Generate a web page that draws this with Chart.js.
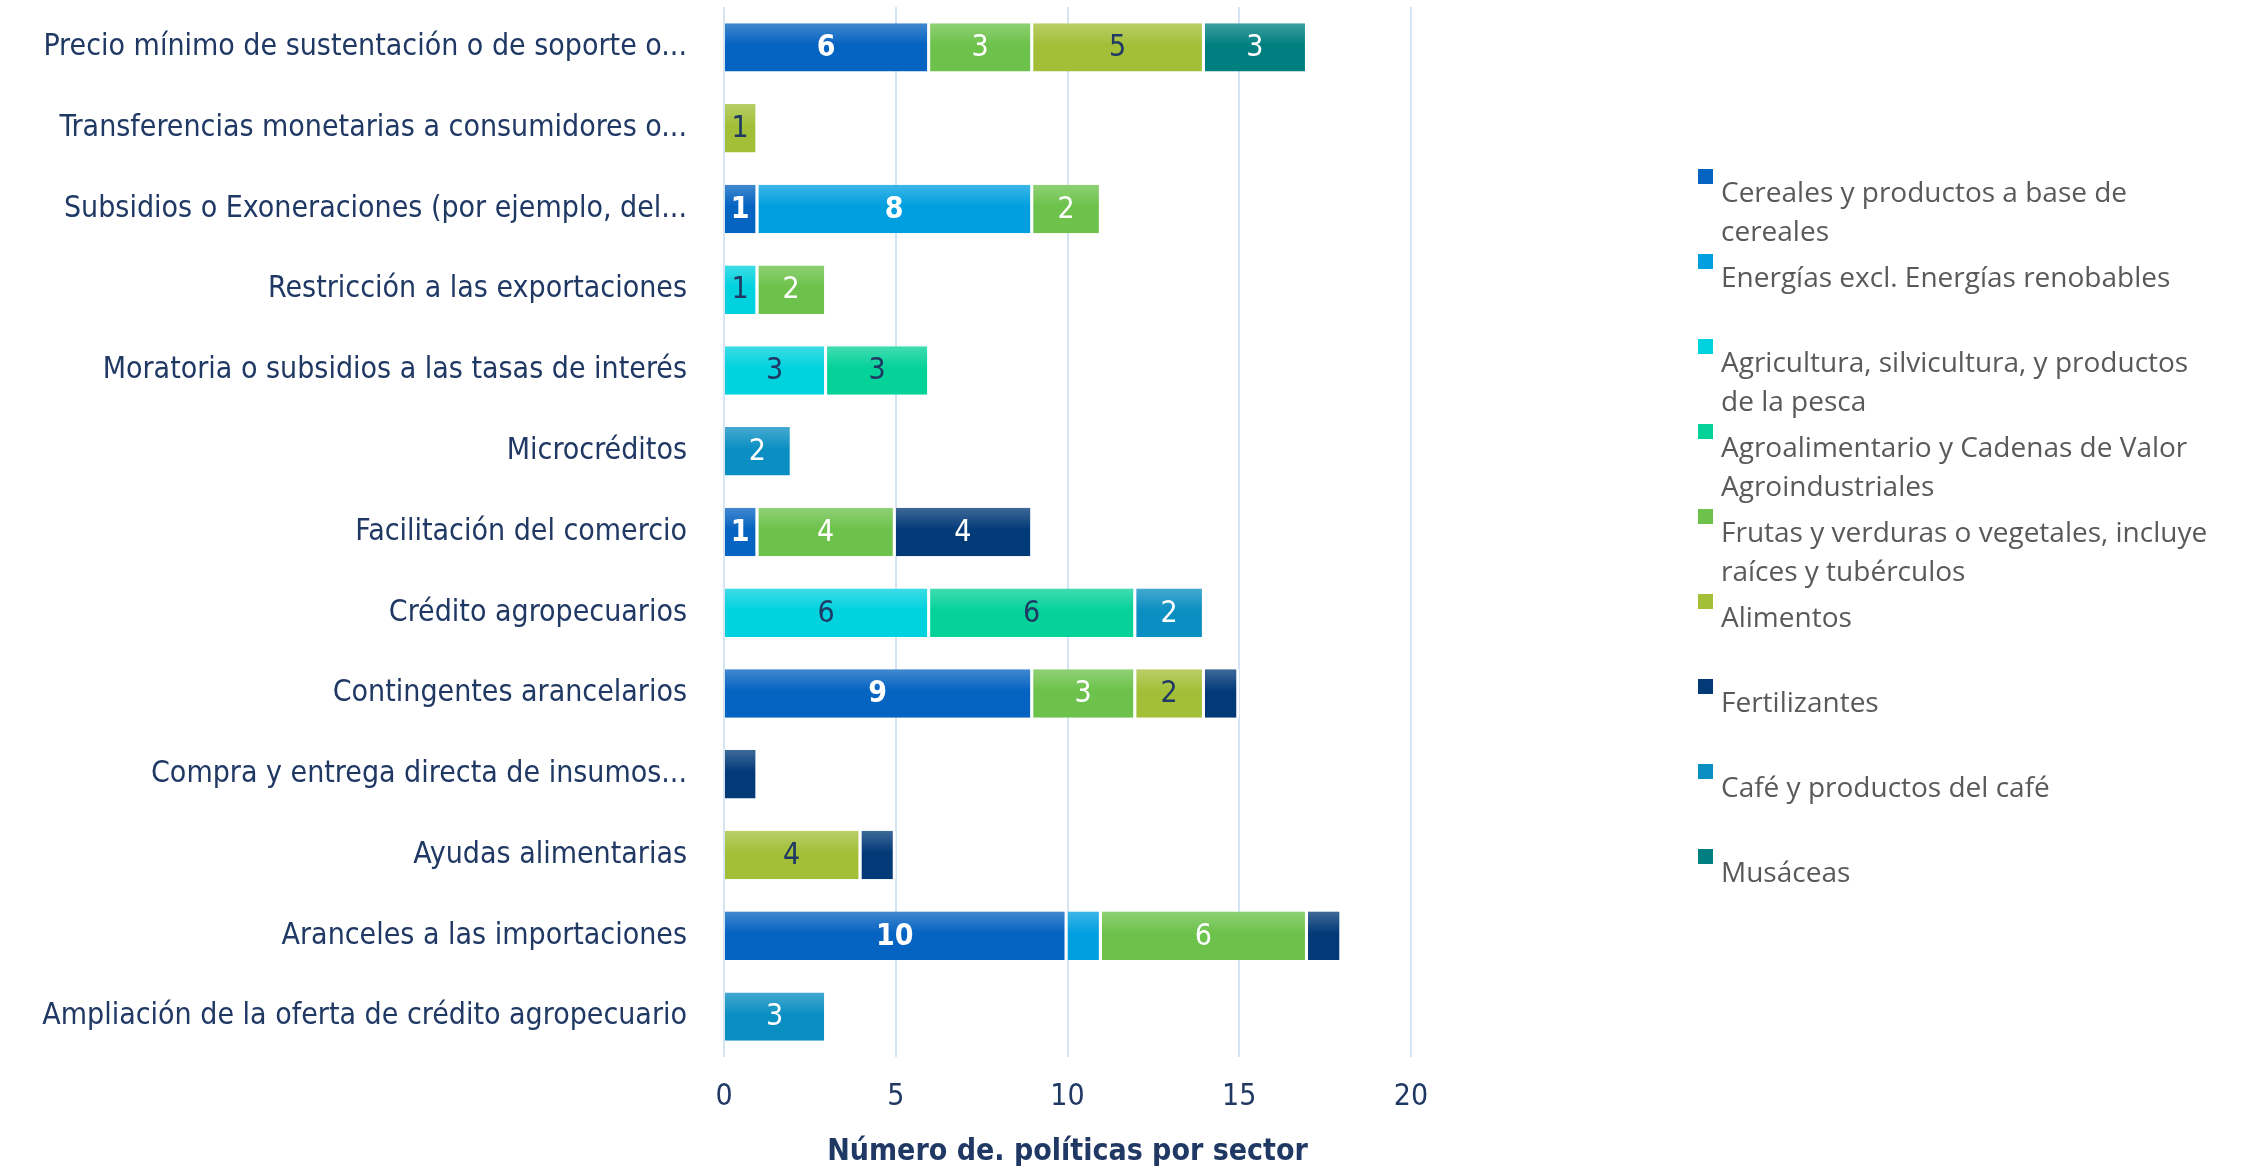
<!DOCTYPE html>
<html lang="es">
<head>
<meta charset="utf-8">
<title>Número de políticas por sector</title>
<script src="https://cdn.jsdelivr.net/npm/chart.js@4.4.1/dist/chart.umd.min.js"></script>
<style>
  html, body { margin: 0; padding: 0; background: #fff; }
  #wrap   { position: relative; width: 2246px; height: 1170px; }
  #chart  { display: block; }
  #legend { position: absolute; left: 1698px; top: 169px;
            font-family: 'Open Sans', Lato, sans-serif; font-size: 28px; color: #595959; }
  .item   { position: absolute; left: 0; }
  .swatch { position: absolute; left: 0; top: 0; width: 15px; height: 15px; }
  .text   { position: absolute; left: 23px; top: 3px; line-height: 39px; white-space: nowrap; }
</style>
</head>
<body>
<div id="wrap">
  <canvas id="chart" width="2246" height="1170"></canvas>
  <div id="legend"></div>
</div>

<script>
/* ─────────────────────────────────────────
   DATOS (de arriba hacia abajo)
───────────────────────────────────────── */
const categories = [
  'Precio mínimo de sustentación o de soporte o...',
  'Transferencias monetarias a consumidores o...',
  'Subsidios o Exoneraciones (por ejemplo, del...',
  'Restricción a las exportaciones',
  'Moratoria o subsidios a las tasas de interés',
  'Microcréditos',
  'Facilitación del comercio',
  'Crédito agropecuarios',
  'Contingentes arancelarios',
  'Compra y entrega directa de insumos...',
  'Ayudas alimentarias',
  'Aranceles a las importaciones',
  'Ampliación de la oferta de crédito agropecuario'
];

/* nombres de sector; "\n" marca el corte de línea en la leyenda */
const sectors = [
  'Cereales y productos a base de\ncereales',
  'Energías excl. Energías renobables',
  'Agricultura, silvicultura, y productos\nde la pesca',
  'Agroalimentario y Cadenas de Valor\nAgroindustriales',
  'Frutas y verduras o vegetales, incluye\nraíces y tubérculos',
  'Alimentos',
  'Fertilizantes',
  'Café y productos del café',
  'Musáceas'
];

const cereales        = [6, null, 1, null, null, null, 1, null, 9, null, null, 10, null];
const energias        = [null, null, 8, null, null, null, null, null, null, null, null, 1, null];
const agricultura     = [null, null, null, 1, 3, null, null, 6, null, null, null, null, null];
const agroalimentario = [null, null, null, null, 3, null, null, 6, null, null, null, null, null];
const frutas          = [3, null, 2, 2, null, null, 4, null, 3, null, null, 6, null];
const alimentos       = [5, 1, null, null, null, null, null, null, 2, null, 4, null, null];
const fertilizantes   = [null, null, null, null, null, null, 4, null, 1, 1, 1, 1, null];
const cafe            = [null, null, null, null, null, 2, null, 2, null, null, null, null, 3];
const musaceas        = [3, null, null, null, null, null, null, null, null, null, null, null, null];

const series = [cereales, energias, agricultura, agroalimentario, frutas,
                alimentos, fertilizantes, cafe, musaceas];

const xTicks = [0, 5, 10, 15, 20];

/* ─────────────────────────────────────────
   ESTILO
───────────────────────────────────────── */
const palette    = ['#0563c1', '#009fe0', '#00d2de', '#05d299', '#6cc24a',
                    '#a3bf38', '#023a78', '#0b8fc2', '#007f80'];
const labelColor = ['#ffffff', '#ffffff', '#1f3864', '#1f3864', '#ffffff',
                    '#1f3864', '#ffffff', '#ffffff', '#ffffff'];
const labelBold  = [true, true, false, false, false, false, false, false, false];
/* en estos sectores el valor 1 no lleva etiqueta */
const quietOnes  = [1, 6];

const NAVY = '#1f3864';
const AXIS_FONT = "'Liberation Sans Narrow', 'DejaVu Sans Condensed', Roboto, sans-serif";

/* Brillo superior + etiqueta centrada en cada segmento */
const barFinish = {
  id: 'barFinish',
  afterDatasetsDraw(chart) {
    const ctx = chart.ctx;
    ctx.save();
    chart.data.datasets.forEach((ds, di) => {
      const meta = chart.getDatasetMeta(di);
      meta.data.forEach((bar, i) => {
        const v = ds.data[i];
        if (!v) return;
        const { x, y, base, height } = bar.getProps(['x', 'y', 'base', 'height'], true);
        const top = y - height / 2;
        const g = ctx.createLinearGradient(0, top, 0, top + height);
        g.addColorStop(0, 'rgba(255,255,255,0.24)');
        g.addColorStop(0.45, 'rgba(255,255,255,0)');
        ctx.fillStyle = g;
        ctx.fillRect(base, top, x - base - 3, height);

        if (v === 1 && quietOnes.includes(di)) return;
        ctx.font = (labelBold[di] ? 'bold ' : '') + '30px ' + AXIS_FONT;
        ctx.fillStyle = labelColor[di];
        ctx.textAlign = 'center';
        ctx.textBaseline = 'middle';
        ctx.fillText(String(v), (base + x - 3) / 2, y + 1);
      });
    });
    ctx.restore();
  }
};

/* ─────────────────────────────────────────
   GRÁFICO
───────────────────────────────────────── */
const datasets = series.map((data, i) => ({
  label:           sectors[i].replace('\n', ' '),
  data,
  backgroundColor: palette[i],
  borderColor:     '#ffffff',
  borderWidth:     { top: 0, bottom: 0, left: 0, right: 3 },
  borderSkipped:   false,
  barPercentage:   0.6,
  categoryPercentage: 1
}));

new Chart(document.getElementById('chart'), {
  type: 'bar',
  data: { labels: categories, datasets },
  plugins: [barFinish],
  options: {
    indexAxis: 'y',
    responsive: false,
    animation: false,
    layout: { padding: { top: 7, right: 835, bottom: 0, left: 0 } },
    plugins: {
      legend:  { display: false },
      tooltip: { enabled: false }
    },
    scales: {
      x: {
        stacked: true,
        min: 0,
        max: 20,
        afterBuildTicks: scale => { scale.ticks = xTicks.map(v => ({ value: v })); },
        afterFit: scale => { scale.height = 113; },
        grid:   { color: '#d5e4f3', lineWidth: 2, drawTicks: false },
        border: { display: false },
        ticks:  { color: NAVY, padding: 22, font: { size: 30, family: AXIS_FONT } },
        title:  {
          display: true,
          text:    'Número de. políticas por sector',
          color:   NAVY,
          padding: 0,
          font:    { size: 30, weight: 'bold', family: AXIS_FONT }
        }
      },
      y: {
        stacked: true,
        /* ancho fijo del eje y sin relleno extra arriba/abajo */
        afterFit: scale => {
          scale.width = 724;
          scale.paddingTop = 0;
          scale.paddingBottom = 0;
        },
        grid:   { display: false },
        border: { display: false },
        ticks:  { color: NAVY, padding: 29, font: { size: 30, family: AXIS_FONT } }
      }
    }
  }
});

/* ─────────────────────────────────────────
   LEYENDA
───────────────────────────────────────── */
const legend = document.getElementById('legend');
sectors.forEach((name, i) => {
  const item = document.createElement('div');
  item.className = 'item';
  item.style.top = (i * 85) + 'px';
  const sw = document.createElement('div');
  sw.className = 'swatch';
  sw.style.background = palette[i];
  const tx = document.createElement('div');
  tx.className = 'text';
  tx.innerHTML = name.split('\n').join('<br>');
  item.appendChild(sw);
  item.appendChild(tx);
  legend.appendChild(item);
});
</script>
</body>
</html>
